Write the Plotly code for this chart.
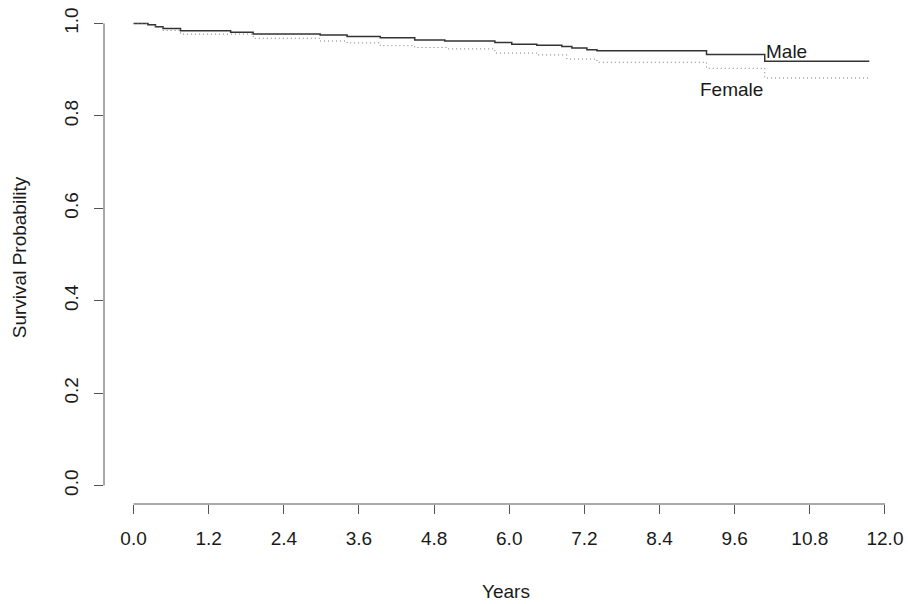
import plotly.graph_objects as go

# Kaplan-Meier step estimates by sex (years, survival probability)
male_years = [0, 0.23, 0.35, 0.47, 0.75, 1.55, 1.91, 2.98, 3.41, 3.94, 4.49, 4.97,
              5.77, 6.04, 6.44, 6.84, 7.00, 7.24, 7.40, 9.15, 10.08, 11.75]
male_surv = [1.0, 0.997, 0.993, 0.989, 0.984, 0.981, 0.977, 0.975, 0.972, 0.969, 0.964, 0.962,
             0.959, 0.955, 0.953, 0.950, 0.947, 0.943, 0.941, 0.933, 0.918, 0.918]

female_years = [0, 0.23, 0.35, 0.47, 0.75, 1.91, 2.98, 3.41, 3.94, 4.49, 5.00,
                5.77, 6.44, 6.92, 7.40, 9.15, 10.08, 11.75]
female_surv = [1.0, 0.996, 0.992, 0.985, 0.977, 0.968, 0.962, 0.958, 0.952, 0.948, 0.945,
               0.936, 0.932, 0.923, 0.916, 0.903, 0.882, 0.882]

x_ticks = [0.0, 1.2, 2.4, 3.6, 4.8, 6.0, 7.2, 8.4, 9.6, 10.8, 12.0]
y_ticks = [0.0, 0.2, 0.4, 0.6, 0.8, 1.0]

curve_labels = ["Male", "Female"]
label_x = [10.43, 9.545]
label_y = [0.940, 0.857]

FONT = "Liberation Sans, Arial, Helvetica, sans-serif"
AXIS_COLOR = "#555555"
TEXT_COLOR = "#1a1a1a"
FS = 19

fig = go.Figure()
fig.add_trace(go.Scatter(x=male_years, y=male_surv, mode="lines", line_shape="hv",
                         line=dict(color="#333333", width=1.5), name="Male"))
fig.add_trace(go.Scatter(x=female_years, y=female_surv, mode="lines", line_shape="hv",
                         line=dict(color="#777777", width=1, dash="1px,3px"), name="Female"))

for txt, lx, ly in zip(curve_labels, label_x, label_y):
    fig.add_annotation(x=lx, y=ly, text=txt, showarrow=False,
                       xanchor="center", yanchor="middle",
                       font=dict(family=FONT, size=FS, color=TEXT_COLOR))

# axis lines span only the tick range, base-graphics style
fig.add_shape(type="line", xref="x", yref="paper", x0=0, x1=12, y0=0, y1=0,
              line=dict(color=AXIS_COLOR, width=1))
fig.add_shape(type="line", xref="paper", yref="y", x0=0, x1=0, y0=0, y1=1,
              line=dict(color=AXIS_COLOR, width=1))

fig.add_annotation(text="Years", xref="paper", yref="paper", x=0.5036, y=-0.176,
                   showarrow=False, xanchor="center", yanchor="middle",
                   font=dict(family=FONT, size=FS, color=TEXT_COLOR))
fig.add_annotation(text="Survival Probability", xref="paper", yref="paper",
                   x=-0.105, y=0.495, textangle=-90, showarrow=False,
                   xanchor="center", yanchor="middle",
                   font=dict(family=FONT, size=FS, color=TEXT_COLOR))

fig.update_layout(
    width=908, height=604,
    margin=dict(l=104, r=6, t=5, b=100),
    paper_bgcolor="white", plot_bgcolor="white",
    showlegend=False,
    font=dict(family=FONT, size=FS, color=TEXT_COLOR),
    xaxis=dict(range=[-0.472, 12.272], tickmode="array", tickvals=x_ticks,
               ticktext=[f"{v:.1f}" for v in x_ticks],
               showgrid=False, zeroline=False, showline=False,
               ticks="outside", ticklen=9, tickcolor=AXIS_COLOR, tickwidth=1,
               ticklabelstandoff=8),
    yaxis=dict(range=[-0.04, 1.04], tickmode="array", tickvals=y_ticks,
               ticktext=[f"{v:.1f}" for v in y_ticks], tickangle=-90,
               showgrid=False, zeroline=False, showline=False,
               ticks="outside", ticklen=9, tickcolor=AXIS_COLOR, tickwidth=1,
               ticklabelstandoff=8),
)

fig.write_html("out.html")
